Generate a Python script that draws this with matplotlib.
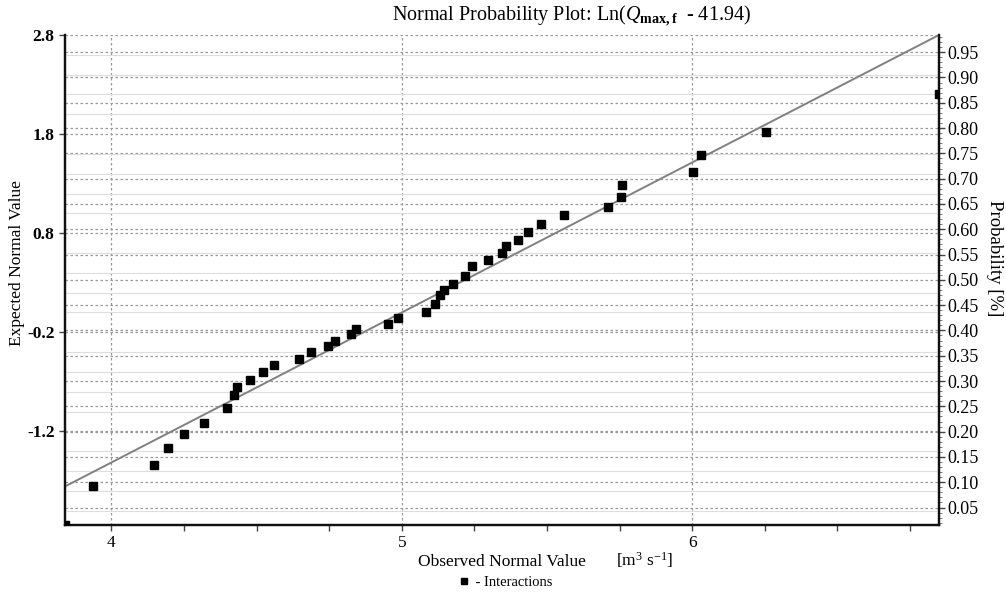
import numpy as np
import matplotlib.pyplot as plt
from matplotlib.ticker import MultipleLocator, FixedLocator

plt.rcParams['font.family'] = ['Liberation Serif', 'DejaVu Serif']
plt.rcParams['mathtext.fontset'] = 'custom'
plt.rcParams['mathtext.rm'] = 'Liberation Serif'
plt.rcParams['mathtext.it'] = 'Liberation Serif:italic'
plt.rcParams['mathtext.bf'] = 'Liberation Serif:bold'

observado = [3.84, 3.936, 4.145, 4.195, 4.251, 4.318, 4.398, 4.423, 4.433, 4.478,
             4.522, 4.560, 4.646, 4.688, 4.746, 4.770, 4.825, 4.843, 4.952, 4.987,
             5.085, 5.114, 5.131, 5.145, 5.176, 5.217, 5.241, 5.297, 5.345, 5.359,
             5.400, 5.436, 5.479, 5.557, 5.710, 5.755, 5.758, 6.002, 6.029, 6.253,
             6.85]
esperado = [-2.14, -1.756, -1.537, -1.369, -1.23, -1.112, -0.96, -0.833, -0.753, -0.68,
            -0.604, -0.533, -0.473, -0.402, -0.341, -0.291, -0.22, -0.168, -0.112, -0.056,
            0.005, 0.083, 0.174, 0.227, 0.283, 0.369, 0.465, 0.526, 0.595, 0.666,
            0.736, 0.807, 0.888, 0.979, 1.066, 1.167, 1.282, 1.416, 1.589, 1.82,
            2.20]

# Recta de referencia
recta_x = [3.84, 6.85]
recta_y = [-1.756, 2.80]

ticks_izq = [-1.2, -0.2, 0.8, 1.8, 2.8]
ticks_x = [4, 5, 6]
ticks_prob = [0.05, 0.10, 0.15, 0.20, 0.25, 0.30, 0.35, 0.40, 0.45, 0.50,
              0.55, 0.60, 0.65, 0.70, 0.75, 0.80, 0.85, 0.90, 0.95]

fig = plt.figure(figsize=(10.06, 5.93), dpi=100)
ax = fig.add_axes([0.0646, 0.1155, 0.8688, 0.8255])
ax2 = ax.twinx()
ax.set_zorder(ax2.get_zorder() + 1)
ax.patch.set_visible(False)

ax.set_xlim(3.84, 6.85)
ax.set_ylim(-2.14, 2.80)
ax2.set_ylim(0.0164, 0.984)

# Rejilla
ax.yaxis.set_minor_locator(MultipleLocator(0.2))
ax.grid(axis='y', which='minor', color='#dddddd', linewidth=0.8, linestyle='-')
ax.grid(axis='y', which='major', color='#999999', linewidth=0.9, linestyle=(0, (2, 2)))
ax.grid(axis='x', which='major', color='#999999', linewidth=0.9, linestyle=(0, (2, 2)))
ax2.grid(axis='y', which='major', color='#999999', linewidth=0.9, linestyle=(0, (2, 2)))

ax.plot(recta_x, recta_y, color='#808080', linewidth=1.4, zorder=2)
ax.plot(observado, esperado, linestyle='none', marker='s', markersize=5.8,
        color='black', zorder=3, label=' - Interactions')

ax.set_yticks(ticks_izq)
ax.set_yticklabels([f"{v:.1f}" for v in ticks_izq], fontweight='bold')
ax.set_xticks(ticks_x)
ax.xaxis.set_minor_locator(MultipleLocator(0.25))
ax2.set_yticks(ticks_prob)
ax2.set_yticklabels([f"{p:.2f}" for p in ticks_prob])
ax2.yaxis.set_minor_locator(FixedLocator(np.arange(0.02, 0.985, 0.01)))

ax.tick_params(axis='y', which='major', labelsize=12.5, length=4, width=1, color='#444444')
ax.tick_params(axis='x', which='major', labelsize=12.5, length=4, width=1, color='#444444')
ax.tick_params(axis='y', which='minor', length=0)
ax.tick_params(axis='x', which='minor', length=4, width=1, color='#444444')
ax2.tick_params(axis='y', which='major', labelsize=13, length=4, width=1, pad=2, color='#444444')
ax2.tick_params(axis='y', which='minor', length=2, width=0.6, color='#666666')

for a in (ax, ax2):
    a.spines['top'].set_visible(False)
    for s in ('left', 'bottom', 'right'):
        a.spines[s].set_linewidth(1.6)
        a.spines[s].set_color('#111111')

fig.text(0.568, 0.974, r"Normal Probability Plot: Ln($\mathit{Q}_{\mathbf{max,f}}$  - 41.94)",
         ha='center', va='center', fontsize=14.5)
fig.text(0.017, 0.556, "Expected Normal Value", rotation=90, ha='center', va='center', fontsize=12.5)
fig.text(0.989, 0.565, "Probability [%]", rotation=270, ha='center', va='center', fontsize=13.5)
fig.text(0.499, 0.052, "Observed Normal Value", ha='center', va='center', fontsize=12.5)
fig.text(0.641, 0.055, r"[m$^{3}$ s$^{-1}$]", ha='center', va='center', fontsize=12.5)

fig.legend(*ax.get_legend_handles_labels(), loc='center', bbox_to_anchor=(0.503, 0.018),
           frameon=False, fontsize=10.5, handlelength=0.6, handletextpad=0.2, markerscale=0.8,
           borderpad=0)

plt.savefig("out.png", dpi=100)
